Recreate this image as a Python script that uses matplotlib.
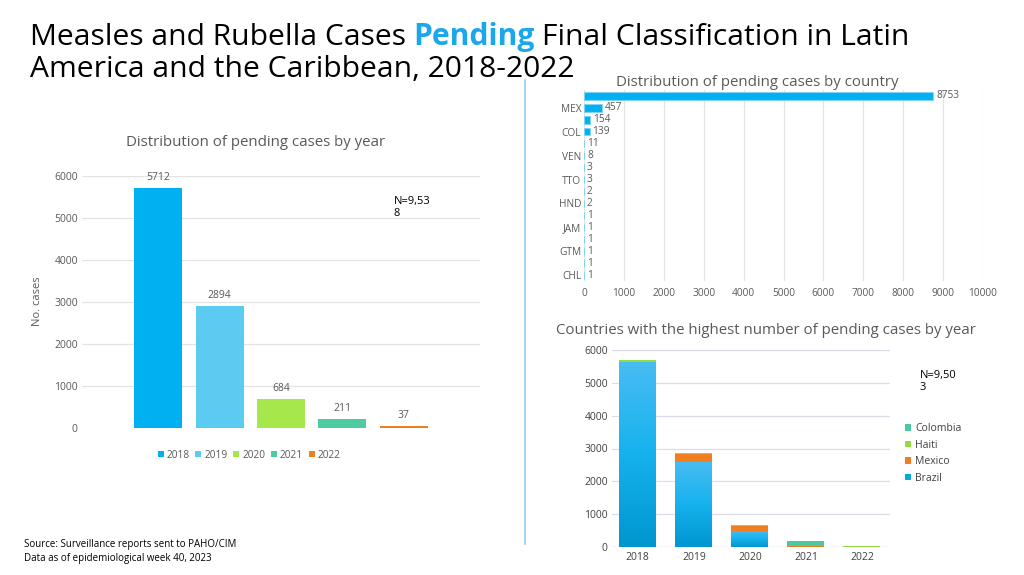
import matplotlib
matplotlib.use("Agg")
import matplotlib.pyplot as plt
import numpy as np
from matplotlib.colors import LinearSegmentedColormap

plt.rcParams['font.family'] = ['Open Sans', 'DejaVu Sans']

# ---------------- data ----------------
years = ["2018", "2019", "2020", "2021", "2022"]
year_totals = [5712, 2894, 684, 211, 37]
year_colors = ["#00B0F0", "#5BCBF2", "#A6E84C", "#4DCBA2", "#F07F22"]

country_labels = ["", "MEX", "", "COL", "", "VEN", "", "TTO", "", "HND", "", "JAM", "", "GTM", "", "CHL"]
country_values = [8753, 457, 154, 139, 11, 8, 3, 3, 2, 2, 1, 1, 1, 1, 1, 1]
country_ticks = [0, 1000, 2000, 3000, 4000, 5000, 6000, 7000, 8000, 9000, 10000]

stack_years = ["2018", "2019", "2020", "2021", "2022"]
brazil = [5645, 2600, 490, 0, 0]
mexico = [0, 225, 160, 40, 0]
haiti = [50, 30, 20, 0, 25]
colombia = [0, 0, 0, 140, 0]
series_names = ["Brazil", "Mexico", "Haiti", "Colombia"]
series_colors = ["#0AA6E2", "#F07F22", "#92DB45", "#4DC9A0"]

W, H = 1024, 575
fig = plt.figure(figsize=(W / 100, H / 100), dpi=100)
fig.patch.set_facecolor("white")


def ax_px(l, t, r, b):
    return fig.add_axes([l / W, 1 - b / H, (r - l) / W, (b - t) / H])


GRAY = "#595959"
TS = 21.6

# ---------------- title ----------------
renderer = fig.canvas.get_renderer()
x0 = 30 / W
y1 = 1 - 45 / H
t1 = fig.text(x0, y1, "Measles and Rubella Cases ", fontsize=TS, color="black", va="baseline")
bb = t1.get_window_extent(renderer)
t2 = fig.text(bb.x1 / W, y1, "Pending", fontsize=TS, color="#1AA7EC", fontweight="bold", va="baseline")
bb2 = t2.get_window_extent(renderer)
fig.text(bb2.x1 / W + 7 / W, y1, "Final Classification in Latin", fontsize=TS, color="black", va="baseline")
fig.text(x0, 1 - 77 / H, "America and the Caribbean, 2018-2022", fontsize=TS, color="black", va="baseline")

# separator
fig.add_artist(plt.Line2D([525 / W, 525 / W], [1 - 80 / H, 1 - 544 / H], color="#8FD3F2", lw=1.2))

# ---------------- left chart ----------------
ax1 = ax_px(82, 176, 480, 428)
for i, (yr, v, c) in enumerate(zip(years, year_totals, year_colors)):
    ax1.bar(i, v, width=0.78, color=c, label=yr, zorder=3)
    ax1.text(i, v + 120, str(v), ha="center", va="bottom", fontsize=7.5, color=GRAY)
ax1.set_xlim(-1.24, 5.24)
ax1.set_ylim(0, 6000)
ax1.set_yticks([0, 1000, 2000, 3000, 4000, 5000, 6000])
ax1.tick_params(axis="y", length=0, labelsize=7.5, labelcolor=GRAY, pad=3)
ax1.set_xticks([])
ax1.grid(axis="y", color="#E3E3E3", lw=0.9, zorder=0)
for s in ax1.spines.values():
    s.set_visible(False)
ax1.text(0.783, 0.92, "N=9,53\n8", transform=ax1.transAxes, fontsize=8, color="black",
         va="top", ha="left", linespacing=1.15)
ax1.legend(loc="upper center", bbox_to_anchor=(0.42, -0.05), ncol=5, frameon=False,
           fontsize=7.3, handlelength=0.6, handleheight=0.6, handletextpad=0.3,
           columnspacing=0.55, labelcolor=GRAY)
fig.text(256 / W, 1 - 142 / H, "Distribution of pending cases by year", ha="center", va="center",
         fontsize=10.8, color=GRAY)
fig.text(37 / W, 1 - 301 / H, "No. cases", rotation=90, ha="center", va="center", fontsize=8, color=GRAY)

# ---------------- right top chart ----------------
ax2 = ax_px(584, 90, 983, 281)
yy = np.arange(len(country_values))
ax2.barh(yy, country_values, height=0.62, color="#00B0F0", edgecolor="#7FD3F5", linewidth=0.8, zorder=3)
for i, v in enumerate(country_values):
    ax2.text(v + 70, i, str(v), va="center", ha="left", fontsize=7.3, color=GRAY)
ax2.set_ylim(len(country_values) - 0.5, -0.5)
ax2.set_xlim(0, 10000)
ax2.set_yticks(yy)
ax2.set_yticklabels(country_labels)
ax2.set_xticks(country_ticks)
ax2.tick_params(length=0, labelsize=7.3, labelcolor=GRAY)
ax2.tick_params(axis="x", pad=5)
ax2.tick_params(axis="y", pad=2)
ax2.grid(axis="x", color="#E3E3E3", lw=0.9, zorder=0)
for s in ax2.spines.values():
    s.set_visible(False)
fig.text(757 / W, 1 - 82 / H, "Distribution of pending cases by country", ha="center", va="center",
         fontsize=10.8, color=GRAY)

# ---------------- right bottom chart ----------------
ax3 = ax_px(612, 350, 890, 547)
xs = np.arange(len(stack_years))
bottom = np.zeros(len(stack_years))
handles = {}
cmap = LinearSegmentedColormap.from_list("bz", ["#0096D0", "#16B2EE", "#48BDF2"])
for name, vals, col in zip(series_names, [brazil, mexico, haiti, colombia], series_colors):
    bars = ax3.bar(xs, vals, width=0.66, bottom=bottom, color=col, label=name, zorder=3)
    if name == "Brazil":
        grad = np.linspace(0, 1, 256).reshape(-1, 1)
        for b in bars:
            if b.get_height() <= 0:
                continue
            x0b, y0b = b.get_x(), b.get_y()
            im = ax3.imshow(grad, cmap=cmap, origin="lower", aspect="auto",
                            extent=[x0b, x0b + b.get_width(), y0b, y0b + b.get_height()], zorder=3.5)
            im.set_clip_path(b)
    handles[name] = bars
    bottom = bottom + np.array(vals)
ax3.set_xlim(-0.46, 4.5)
ax3.set_ylim(0, 6000)
ax3.set_xticks(xs)
ax3.set_xticklabels(stack_years)
ax3.set_yticks([0, 1000, 2000, 3000, 4000, 5000, 6000])
ax3.tick_params(length=0, labelsize=7.5, labelcolor="#404040")
ax3.tick_params(axis="y", pad=3)
ax3.grid(axis="y", color="#DCDCE8", lw=0.9, zorder=0)
for s in ax3.spines.values():
    s.set_visible(False)
ax3.axhline(0, color="#DCDCE8", lw=0.9, zorder=2)
h = [handles[n] for n in ["Colombia", "Haiti", "Mexico", "Brazil"]]
ax3.legend(h, ["Colombia", "Haiti", "Mexico", "Brazil"], loc="upper left",
           bbox_to_anchor=(1.02, 0.675), frameon=False, fontsize=7.5, handlelength=0.6,
           handleheight=0.6, handletextpad=0.4, labelspacing=0.52, labelcolor="#404040")
fig.text(920 / W, 1 - 370 / H, "N=9,50\n3", fontsize=8, color="black", va="top", ha="left",
         linespacing=1.15)
fig.text(766 / W, 1 - 330 / H, "Countries with the highest number of pending cases by year",
         ha="center", va="center", fontsize=10.8, color=GRAY)

# ---------------- source ----------------
fig.text(24 / W, 1 - 545 / H, "Source: Surveillance reports sent to PAHO/CIM", fontsize=7,
         color="black", va="center")
fig.text(24 / W, 1 - 558 / H, "Data as of epidemiological week 40, 2023", fontsize=7,
         color="black", va="center")

fig.savefig("out.png", dpi=100, facecolor="white")
